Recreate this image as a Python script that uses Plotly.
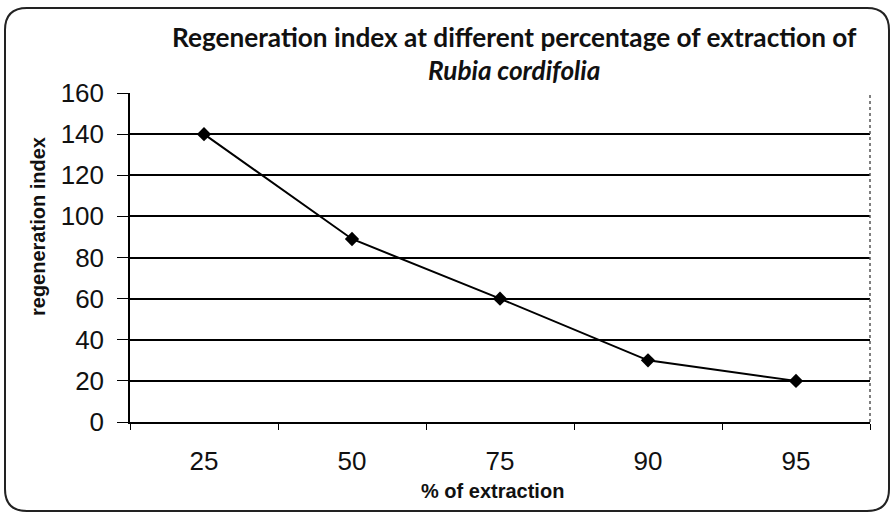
import plotly.graph_objects as go

# Regeneration index vs. percentage of extraction
extraction_pct = ["25", "50", "75", "90", "95"]
regeneration_index = [140, 89, 60, 30, 20]
y_ticks = [0, 20, 40, 60, 80, 100, 120, 140, 160]

W, H = 892, 516
L, R, T, B = 130, 22, 93, 94
pw, ph = W - L - R, H - T - B


def px(x):
    return (x - L) / pw


def py(y):
    return (H - B - y) / ph


fig = go.Figure()
fig.add_trace(go.Scatter(
    x=extraction_pct,
    y=regeneration_index,
    mode="lines+markers",
    line=dict(color="black", width=2),
    marker=dict(symbol="diamond", size=11, color="black"),
    showlegend=False,
))

# rounded outer frame of the chart area
x0, x1, y0, y1, r = 5, 889, 8, 511, 22
rx, ry = r / pw, r / ph
X0, X1, Y0, Y1 = px(x0), px(x1), py(y1), py(y0)
frame = (
    f"M {X0 + rx} {Y1} L {X1 - rx} {Y1} Q {X1} {Y1} {X1} {Y1 - ry} "
    f"L {X1} {Y0 + ry} Q {X1} {Y0} {X1 - rx} {Y0} "
    f"L {X0 + rx} {Y0} Q {X0} {Y0} {X0} {Y0 + ry} "
    f"L {X0} {Y1 - ry} Q {X0} {Y1} {X0 + rx} {Y1} Z"
)
fig.add_shape(type="path", path=frame, xref="paper", yref="paper",
              line=dict(color="#222", width=2), layer="below")

title_font = dict(family="Lato", size=26.2, color="#111", weight="bold")
axis_title_font = dict(family="Liberation Sans", size=20, color="#111")


def label(text, x, y, font, angle=0):
    return dict(text=text, x=px(x), y=py(y), xref="paper", yref="paper",
                xanchor="center", yanchor="middle", textangle=angle,
                showarrow=False, font=font)


fig.update_layout(
    width=W, height=H,
    margin=dict(l=L, r=R, t=T, b=B),
    paper_bgcolor="white",
    plot_bgcolor="white",
    font=dict(family="Liberation Sans, Arial, sans-serif", color="#111"),
    annotations=[
        label("Regeneration index at different percentage of extraction of",
              514, 37, title_font),
        label("<i>Rubia cordifolia</i>", 514, 70, title_font),
        label("<b>regeneration index</b>", 38, 227, axis_title_font, -90),
        label("<b>% of extraction</b>", 492, 491, axis_title_font),
    ],
)

fig.update_xaxes(
    type="category",
    tickson="boundaries",
    ticks="outside", ticklen=6, tickcolor="black",
    showline=True, linecolor="black", linewidth=1.5,
    showgrid=False, mirror=False,
    tickfont=dict(size=26),
    ticklabelstandoff=15,
    range=[-0.5, 4.5],
)
fig.update_yaxes(
    range=[0, 160],
    tickvals=y_ticks,
    ticks="outside", ticklen=11, tickcolor="black",
    showline=True, linecolor="black", linewidth=1.5,
    showgrid=True, gridcolor="black", gridwidth=1.5,
    zeroline=False,
    tickfont=dict(size=26),
    ticklabelstandoff=8,
)
# right border of plotting area
fig.add_shape(type="line", xref="paper", yref="paper", x0=1, x1=1, y0=0, y1=1,
              line=dict(color="#555", width=1.5, dash="dot"))

fig.write_html("out.html")
